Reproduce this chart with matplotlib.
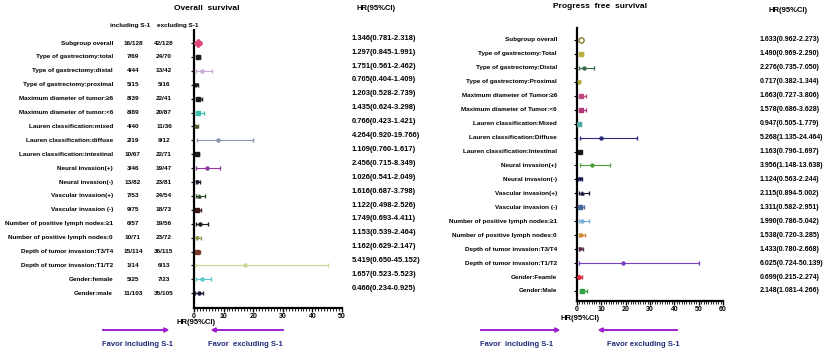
import matplotlib.pyplot as plt
from matplotlib.transforms import blended_transform_factory
from matplotlib.ticker import MultipleLocator

plt.rcParams['font.family'] = ['Liberation Sans', 'DejaVu Sans']
plt.rcParams['font.weight'] = 'bold'

# ---- Overall survival ----
os_labels = ['Subgroup overall', 'Type of gastrectomy:total', 'Type of gastrectomy:distal',
             'Type of gastrectomy:proximal', 'Maximum diameter of tumor:\u22656',
             'Maximum diameter of tumor:<6', 'Lauren classification:mixed',
             'Lauren classification:diffuse', 'Lauren classification:intestinal',
             'Neural invasion(+)', 'Neural invasion(-)', 'Vascular invasion(+)',
             'Vascular invasion (-)', 'Number of positive lymph nodes:\u22651',
             'Number of positive lymph nodes:0', 'Depth of tumor invasion:T3/T4',
             'Depth of tumor invasion:T1/T2', 'Gender:female', 'Gender:male']
os_inc = ['16/128', '7/69', '4/44', '5/15', '8/39', '8/89', '4/40', '2/19', '10/67', '3/46',
          '13/82', '7/53', '9/75', '6/57', '10/71', '15/114', '1/14', '5/25', '11/103']
os_exc = ['42/128', '24/70', '13/42', '5/16', '22/41', '20/87', '11/36', '9/12', '22/71', '19/47',
          '23/81', '24/54', '18/73', '19/56', '23/72', '36/115', '6/13', '7/23', '35/105']
os_hr = ['1.346(0.781-2.318)', '1.297(0.845-1.991)', '1.751(0.561-2.462)', '0.705(0.404-1.409)',
         '1.203(0.528-2.739)', '1.435(0.624-3.298)', '0.766(0.423-1.421)', '4.264(0.920-19.766)',
         '1.109(0.760-1.617)', '2.456(0.715-8.349)', '1.026(0.541-2.049)', '1.616(0.687-3.798)',
         '1.122(0.498-2.526)', '1.749(0.693-4.411)', '1.153(0.539-2.464)', '1.162(0.629-2.147)',
         '5.419(0.650-45.152)', '1.657(0.523-5.523)', '0.466(0.234-0.925)']
os_pt = [1.35, 1.3, 2.6, 0.7, 1.2, 1.4, 0.77, 8.2, 1.1, 4.3, 1.0, 1.6, 1.1, 2.2, 1.15, 1.16, 17.2, 2.6, 1.6]
os_lo = [0.78, 0.85, 0.56, 0.4, 0.53, 0.62, 0.42, 0.9, 0.76, 0.7, 0.54, 0.69, 0.5, 0.69, 0.54, 0.63, 0.65, 0.52, 0.5]
os_hi = [2.3, 2.0, 6.0, 1.4, 2.7, 3.3, 1.4, 20.0, 1.6, 8.8, 2.0, 3.8, 2.5, 4.6, 2.5, 2.1, 45.3, 5.6, 3.1]
os_col = ['#e0457b', '#1a1a1a', '#c9a9d6', '#1a1a1a', '#1a1a1a', '#3cc0b0', '#4a5a2a', '#8a95b0',
          '#1a1a1a', '#8a3a9a', '#1a1a2a', '#2a4a2a', '#3a1a1a', '#1a1a1a', '#8a9a4a', '#7a3a2a',
          '#c8d890', '#5ac8c8', '#1a1a3a']
os_mk = ['D', 's', 'o', 'v', 's', 's', '^', 'o', 's', 'o', 'v', '^', 's', 'o', 'v', 's', 'o', 'o', 'o']

# ---- Progress free survival ----
pfs_labels = ['Subgroup overall', 'Type of gastrectomy:Total', 'Type of gastrectomy:Distal',
              'Type of gastrectomy:Proximal', 'Maximum diameter of Tumor:\u22656',
              'Maximum diameter of Tumor:<6', 'Lauren classification:Mixed',
              'Lauren classification:Diffuse', 'Lauren classification:Intestinal',
              'Neural invasion(+)', 'Neural invasion(-)', 'Vascular invasion(+)',
              'Vascular invasion (-)', 'Number of positive lymph nodes:\u22651',
              'Number of positive lymph nodes:0', 'Depth of tumor invasion:T3/T4',
              'Depth of tumor invasion:T1/T2', 'Gender:Feamle', 'Gender:Male']
pfs_hr = ['1.633(0.962-2.273)', '1.490(0.969-2.290)', '2.276(0.735-7.050)', '0.717(0.382-1.344)',
          '1.663(0.727-3.806)', '1.578(0.686-3.628)', '0.947(0.505-1.779)', '5.268(1.135-24.464)',
          '1.163(0.796-1.697)', '3.956(1.148-13.638)', '1.124(0.563-2.244)', '2.115(0.894-5.002)',
          '1.311(0.582-2.951)', '1.990(0.786-5.042)', '1.538(0.720-3.285)', '1.433(0.780-2.668)',
          '6.025(0.724-50.139)', '0.699(0.215-2.274)', '2.148(1.081-4.266)']
pfs_pt = [1.63, 1.49, 2.9, 0.72, 1.66, 1.58, 0.95, 10.0, 1.16, 6.0, 1.12, 2.1, 1.31, 1.99, 1.54, 1.43, 19.0, 0.7, 2.15]
pfs_lo = [0.96, 0.97, 0.74, 0.38, 0.73, 0.69, 0.5, 1.14, 0.8, 1.15, 0.56, 0.89, 0.58, 0.79, 0.72, 0.78, 0.72, 0.22, 1.08]
pfs_hi = [2.27, 2.29, 7.05, 1.34, 3.81, 3.63, 1.78, 24.5, 1.7, 13.6, 2.24, 5.0, 2.95, 5.04, 3.29, 2.67, 50.1, 2.27, 4.27]
pfs_col = ['#8a7a2a', '#b8b040', '#3a6a4a', '#b0a838', '#c04880', '#b03878', '#50a8a0', '#2a2a7a',
           '#1a1a1a', '#50a040', '#1a1a5a', '#1a1a3a', '#4a6a9a', '#7ab0d8', '#d08a3a', '#5a2a4a',
           '#7a40c0', '#e03040', '#30a040']
pfs_mk = ['o', 's', 'o', 'v', 's', 's', 's', 'o', 's', 'o', 'v', '^', 's', 'o', 'o', 'v', 'o', 'D', 's']

fig = plt.figure(figsize=(8.24, 3.54), dpi=100)
fs = 4.6
nav = '#1f2a7a'
arrow_col = '#a020d0'


def forest(ax, pt, lo, hi, cols, mks, xmax, open_first=False):
    n = len(pt)
    ys = list(range(n, 0, -1))
    for i in range(n):
        big = i == 0
        mfc = 'white' if (big and open_first) else cols[i]
        ax.errorbar(pt[i], ys[i], xerr=[[pt[i] - lo[i]], [hi[i] - pt[i]]], fmt=mks[i],
                    color=cols[i], mfc=mfc, mew=1.0, ms=3.8 if big else 2.2,
                    elinewidth=0.8, capsize=1.2, capthick=0.7, zorder=3)
    ax.set_xlim(0, xmax)
    ax.spines['top'].set_visible(False)
    ax.spines['right'].set_visible(False)
    ax.spines['left'].set_linewidth(1.6)
    ax.spines['bottom'].set_linewidth(1.6)
    ax.spines['bottom'].set_bounds(0, xmax)
    ax.set_yticks(ys)
    ax.set_yticklabels([])
    ax.tick_params(axis='y', length=2.5, width=0.8)
    ax.xaxis.set_major_locator(MultipleLocator(10))
    ax.xaxis.set_minor_locator(MultipleLocator(1))
    ax.tick_params(axis='x', which='major', length=3.0, width=1.0, labelsize=5, pad=0.5)
    ax.tick_params(axis='x', which='minor', length=2, width=0.6)
    for t in ax.get_xticklabels():
        t.set_fontweight('bold')
    ax.patch.set_alpha(0)
    return ys


# left panel
ax1 = fig.add_axes([0.2354, 1 - 308 / 354, 0.1796, (308 - 30) / 354])
ys = forest(ax1, os_pt, os_lo, os_hi, os_col, os_mk, 50)
ax1.set_ylim(-0.06, 19.94)
tr1 = blended_transform_factory(fig.transFigure, ax1.transData)
for i, y in enumerate(ys):
    ax1.text(113 / 824, y, os_labels[i], transform=tr1, ha='right', va='center', fontsize=fs)
    ax1.text(133 / 824, y, os_inc[i], transform=tr1, ha='center', va='center', fontsize=fs)
    ax1.text(164 / 824, y, os_exc[i], transform=tr1, ha='center', va='center', fontsize=fs)
    ax1.text(352 / 824, y + 0.35, os_hr[i], transform=tr1, ha='left', va='center', fontsize=5.4)

fig.text(207 / 824, 1 - 9 / 354, 'Overall  survival', ha='center', va='center', fontsize=6.0)
fig.text(376 / 824, 1 - 9 / 354, 'HR(95%CI)', ha='center', va='center', fontsize=5.5)
fig.text(130 / 824, 1 - 26 / 354, 'including S-1', ha='center', va='center', fontsize=fs)
fig.text(178 / 824, 1 - 26 / 354, 'excluding S-1', ha='center', va='center', fontsize=fs)
fig.text(196 / 824, 1 - 322 / 354, 'HR(95%CI)', ha='center', va='center', fontsize=5.5)

# right panel
ax2 = fig.add_axes([0.7002, 1 - 301 / 354, 0.1772, (301 - 28) / 354])
ys = forest(ax2, pfs_pt, pfs_lo, pfs_hi, pfs_col, pfs_mk, 60, open_first=True)
ax2.set_ylim(0.28, 19.86)
tr2 = blended_transform_factory(fig.transFigure, ax2.transData)
for i, y in enumerate(ys):
    ax2.text(557 / 824, y, pfs_labels[i], transform=tr2, ha='right', va='center', fontsize=fs)
    ax2.text(760 / 824, y, pfs_hr[i], transform=tr2, ha='left', va='center', fontsize=5.0)

fig.text(600 / 824, 1 - 7 / 354, 'Progress  free  survival', ha='center', va='center', fontsize=6.0)
fig.text(788 / 824, 1 - 10 / 354, 'HR(95%CI)', ha='center', va='center', fontsize=5.5)
fig.text(580 / 824, 1 - 319 / 354, 'HR(95%CI)', ha='center', va='center', fontsize=5.5)

# favor arrows
arrows = [(100, 172, 330), (286, 208, 330), (478, 563, 330), (680, 595, 330)]
for x0, x1, y in arrows:
    fig.add_artist(plt.annotate('', xy=(x1 / 824, 1 - y / 354), xytext=(x0 / 824, 1 - y / 354),
                                xycoords='figure fraction',
                                arrowprops=dict(arrowstyle='-|>', color=arrow_col, lw=1.2,
                                                mutation_scale=6)))
favor = [(138, 'Favor including S-1'), (245, 'Favor  excluding S-1'),
         (517, 'Favor  including S-1'), (643, 'Favor excluding S-1')]
for x, s in favor:
    fig.text(x / 824, 1 - 345 / 354, s, ha='center', va='center', fontsize=5.5, color=nav)

fig.savefig('out.png', dpi=100)
